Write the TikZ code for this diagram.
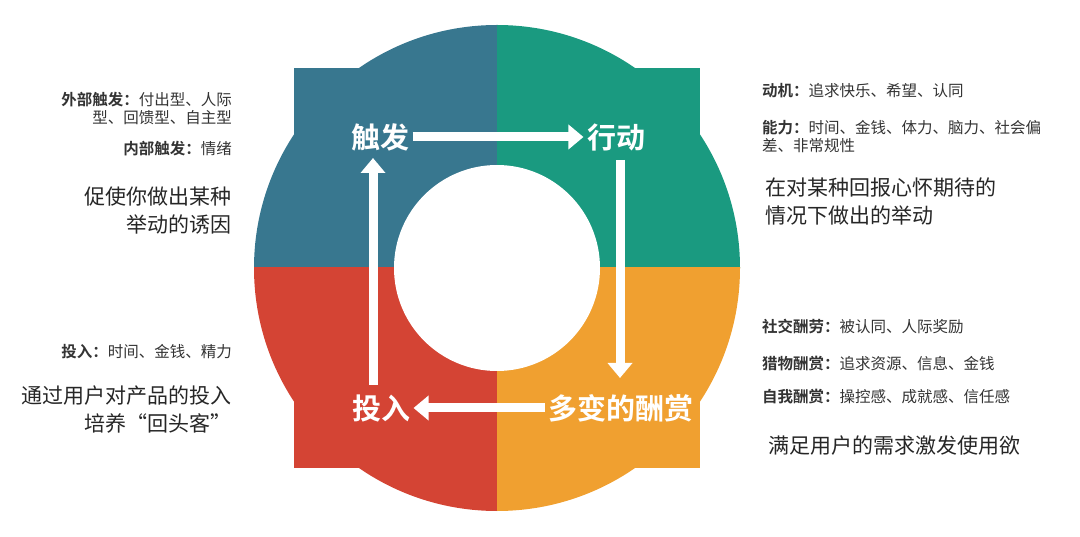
\documentclass[tikz,border=0pt]{standalone}
\usepackage{fontspec}
\usetikzlibrary{arrows.meta}
\setmainfont{Noto Sans CJK SC}[BoldFont=Noto Sans CJK SC Bold]
\begin{document}
\begin{tikzpicture}[x=1pt,y=-1pt,
  sm/.style={font=\fontsize{15.5}{18}\selectfont,text=black!80,inner sep=0pt},
  bg/.style={font=\fontsize{21}{28}\selectfont,text=black!85,inner sep=0pt},
  lbl/.style={font=\bfseries\fontsize{29}{32}\selectfont,text=white},
  arr/.style={white,line width=9pt,-{Triangle[length=15pt,width=24pt]}}]
\useasboundingbox (0,0) rectangle (1080,537);
\definecolor{cb}{HTML}{38778F}\definecolor{cg}{HTML}{1A9A80}
\definecolor{cr}{HTML}{D44434}\definecolor{co}{HTML}{F0A030}
\foreach \cx/\cy/\c in {0/0/cb,497/0/cg,0/268/cr,497/268/co}{
  \begin{scope}\clip (\cx,\cy) rectangle ++(497,268);
  \fill[\c] (497,268) circle[radius=243];
  \fill[\c] (294,68) rectangle (700,468); \end{scope}}
\fill[white] (497,268) circle[radius=103];
\node[lbl] (t) at (380,137) {触发};
\node[lbl] (a) at (616,137) {行动};
\node[lbl] (r) at (621,408) {多变的酬赏};
\node[lbl] (i) at (381,408) {投入};
\draw[arr] (t.east) -- (a.west);
\draw[arr] (620,160) -- (620,378);
\draw[arr] (r.west) -- (i.east);
\draw[arr] (373,385) -- (373,158);
\begin{scope}[every node/.append style={anchor=east,align=right}]
\node[sm] (l1) at (232,108) {\textbf{外部触发：}付出型、人际\\型、回馈型、自主型};
\node[sm] (l2) at (232,149) {\textbf{内部触发：}情绪};
\node[bg] (l3) at (232,211) {促使你做出某种\\举动的诱因};
\node[sm] (l4) at (232,352) {\textbf{投入：}时间、金钱、精力};
\node[bg] (l5) at (232,410) {通过用户对产品的投入\\培养“回头客”};
\end{scope}
\begin{scope}[every node/.append style={anchor=west,align=left}]
\node[sm] (r1) at (762,91) {\textbf{动机：}追求快乐、希望、认同};
\node[sm] (r2) at (762,137) {\textbf{能力：}时间、金钱、体力、脑力、社会偏\\差、非常规性};
\node[bg] (r3) at (765,201) {在对某种回报心怀期待的\\情况下做出的举动};
\node[sm] (r4) at (762,327) {\textbf{社交酬劳：}被认同、人际奖励};
\node[sm] (r5) at (762,364) {\textbf{猎物酬赏：}追求资源、信息、金钱};
\node[sm] (r6) at (762,397) {\textbf{自我酬赏：}操控感、成就感、信任感};
\node[bg] (r7) at (768,446) {满足用户的需求激发使用欲};
\end{scope}
\end{tikzpicture}
\end{document}
